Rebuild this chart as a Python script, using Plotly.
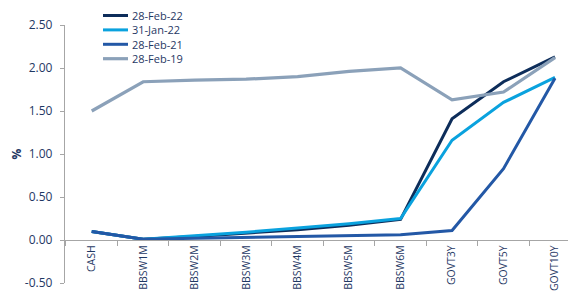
import plotly.graph_objects as go

categories = ["CASH", "BBSW1M", "BBSW2M", "BBSW3M", "BBSW4M", "BBSW5M", "BBSW6M", "GOVT3Y", "GOVT5Y", "GOVT10Y"]
feb22 = [0.10, 0.01, 0.04, 0.08, 0.12, 0.17, 0.24, 1.41, 1.84, 2.13]
jan22 = [0.10, 0.01, 0.05, 0.09, 0.14, 0.19, 0.25, 1.16, 1.60, 1.89]
feb21 = [0.10, 0.01, 0.02, 0.03, 0.04, 0.05, 0.06, 0.11, 0.83, 1.88]
feb19 = [1.50, 1.84, 1.86, 1.87, 1.90, 1.96, 2.00, 1.63, 1.72, 2.12]
y_ticks = [-0.5, 0.0, 0.5, 1.0, 1.5, 2.0, 2.5]
y_ticktext = ["-0.50", "0.00", "0.50", "1.00", "1.50", "2.00", "2.50"]

series_names = ["28-Feb-22", "31-Jan-22", "28-Feb-21", "28-Feb-19"]
series_values = [feb22, jan22, feb21, feb19]
series_colors = ["#0d2d5a", "#0aa2de", "#2358a6", "#8ba1b9"]
series_widths = [3, 3, 3, 3.2]

txt = "#1f3864"
fig = go.Figure()
for name, vals, color, w in zip(series_names, series_values, series_colors, series_widths):
    fig.add_trace(go.Scatter(x=categories, y=vals, name=name, mode="lines",
                             line=dict(color=color, width=w)))

# custom compact legend (paper coordinates)
leg_y = [1.0368, 0.9810, 0.9252, 0.8694]
for name, color, w, yy in zip(series_names, series_colors, series_widths, leg_y):
    fig.add_shape(type="line", xref="paper", yref="paper", x0=0.0744, x1=0.1233,
                  y0=yy, y1=yy, line=dict(color=color, width=w))
    fig.add_annotation(xref="paper", yref="paper", x=0.129, y=yy, text=name,
                       showarrow=False, xanchor="left", yanchor="middle", borderpad=0,
                       font=dict(size=11, color=txt))

fig.update_layout(
    width=568, height=287,
    margin=dict(l=57, r=0, t=17, b=12),
    paper_bgcolor="white", plot_bgcolor="white",
    font=dict(family="Open Sans", size=12, color=txt),
    showlegend=False,
    xaxis=dict(type="category", range=[-0.519, 9.408], anchor="free", position=1/6,
               showline=True, linecolor="#a6a6a6", linewidth=1.3,
               ticks="outside", tickson="boundaries", ticklen=5, tickcolor="#a6a6a6",
               tickangle=-90, tickfont=dict(size=10.5, color=txt),
               showgrid=False, zeroline=False, automargin=False),
    yaxis=dict(range=[-0.5, 2.5], tickvals=y_ticks, ticktext=y_ticktext,
               showline=True, linecolor="#a6a6a6", linewidth=1.3,
               ticks="outside", ticklen=4, tickcolor="#a6a6a6", ticklabelstandoff=5,
               tickfont=dict(size=12, color=txt),
               showgrid=False, zeroline=False, automargin=False,
               title=dict(text="<b>%</b>", font=dict(size=12, color=txt))),
)
fig.write_html("out.html")
